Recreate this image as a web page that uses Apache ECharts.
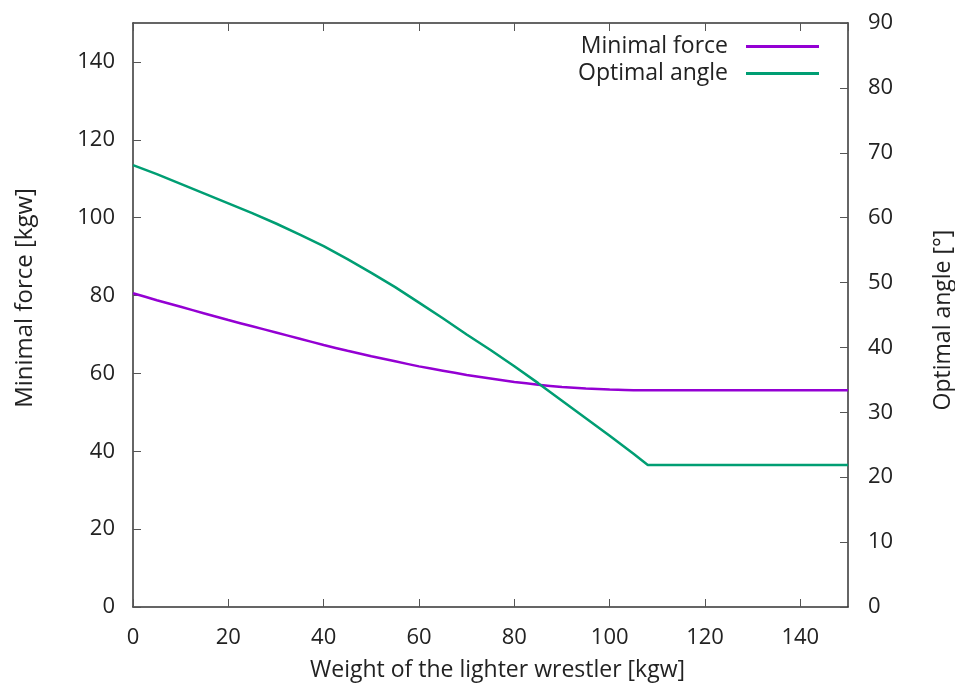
<!DOCTYPE html>
<html>
<head>
<meta charset="utf-8">
<script src="https://cdn.jsdelivr.net/npm/echarts@6/dist/echarts.min.js"></script>
<style>html,body{margin:0;padding:0;background:#fff}#c{width:955px;height:687px}</style>
</head>
<body>
<div id="c"></div>
<script>
var forceX = [0, 5, 10, 15, 20, 25, 30, 35, 40, 45, 50, 55, 60, 65, 70, 75, 80, 85, 90, 95, 100, 105, 110, 120, 130, 140, 150];
var forceY = [80.6, 78.8, 77.1, 75.4, 73.7, 72.1, 70.5, 68.9, 67.3, 65.8, 64.4, 63.1, 61.8, 60.7, 59.6, 58.7, 57.8, 57.1, 56.5, 56.1, 55.85, 55.7, 55.7, 55.7, 55.7, 55.7, 55.7];
var angleX = [0, 5, 10, 15, 20, 25, 30, 35, 40, 45, 50, 55, 60, 65, 70, 75, 80, 85, 90, 95, 100, 105, 108, 120, 130, 140, 150];
var angleY = [68.1, 66.7, 65.2, 63.7, 62.2, 60.7, 59.1, 57.4, 55.6, 53.6, 51.5, 49.3, 46.9, 44.5, 42.0, 39.6, 37.1, 34.5, 31.8, 29.1, 26.4, 23.6, 21.9, 21.9, 21.9, 21.9, 21.9];
var seriesNames = ['Minimal force', 'Optimal angle'];
var xName = 'Weight of the lighter wrestler [kgw]';
var yLeftName = 'Minimal force [kgw]';
var yRightName = 'Optimal angle [°]';

function pairs(xs, ys) { return xs.map(function (x, i) { return [x, ys[i]]; }); }

var FONT = 'Open Sans';
var labelStyle = { color: '#222', fontSize: 22, fontFamily: FONT };
var axisLine = { show: true, onZero: false, lineStyle: { color: '#333', width: 1.5 } };
var tick = { show: true, inside: true, length: 8, lineStyle: { color: '#555', width: 1 } };

var chart = echarts.init(document.getElementById('c'));
chart.setOption({
  animation: false,
  backgroundColor: '#fff',
  grid: { left: 133, right: 107, top: 23, bottom: 80, containLabel: false, outerBoundsMode: 'none' },
  legend: {
    orient: 'vertical', right: 131, top: 30, align: 'right',
    itemWidth: 73, itemHeight: 3, itemGap: 4, icon: 'rect',
    textStyle: { color: '#222', fontSize: 23, fontFamily: FONT, padding: [0, 13, 0, 0] },
    data: seriesNames
  },
  xAxis: [
    { type: 'value', min: 0, max: 150, interval: 20, position: 'bottom',
      name: xName, nameLocation: 'middle', nameGap: 52,
      nameTextStyle: { color: '#222', fontSize: 23, fontFamily: FONT, padding: [0, 0, 0, 14] },
      axisLine: axisLine, axisTick: tick,
      axisLabel: Object.assign({ margin: 20, showMaxLabel: false }, labelStyle),
      splitLine: { show: false } },
    { type: 'value', min: 0, max: 150, interval: 20, position: 'top',
      axisLine: axisLine, axisTick: tick, axisLabel: { show: false }, splitLine: { show: false } }
  ],
  yAxis: [
    { type: 'value', min: 0, max: 150, interval: 20, position: 'left',
      name: yLeftName, nameLocation: 'middle', nameGap: 96,
      nameTextStyle: { color: '#222', fontSize: 24, fontFamily: FONT, padding: [0, 0, 0, 34] },
      axisLine: axisLine, axisTick: tick,
      axisLabel: Object.assign({ margin: 18, showMaxLabel: false }, labelStyle),
      splitLine: { show: false } },
    { type: 'value', min: 0, max: 90, interval: 10, position: 'right',
      name: yRightName, nameLocation: 'middle', nameGap: 84,
      nameTextStyle: { color: '#222', fontSize: 23, fontFamily: FONT, padding: [0, 10, 0, 0] },
      axisLine: axisLine, axisTick: tick,
      axisLabel: Object.assign({ margin: 20 }, labelStyle),
      splitLine: { show: false } }
  ],
  series: [
    { name: seriesNames[0], type: 'line', xAxisIndex: 0, yAxisIndex: 0, smooth: 0.15,
      showSymbol: false, symbol: 'none', color: '#9400D3',
      lineStyle: { color: '#9400D3', width: 2.5 }, data: pairs(forceX, forceY) },
    { name: seriesNames[1], type: 'line', xAxisIndex: 0, yAxisIndex: 1, smooth: false,
      showSymbol: false, symbol: 'none', color: '#009E73',
      lineStyle: { color: '#009E73', width: 2.5 }, data: pairs(angleX, angleY) }
  ]
});
</script>
</body>
</html>
